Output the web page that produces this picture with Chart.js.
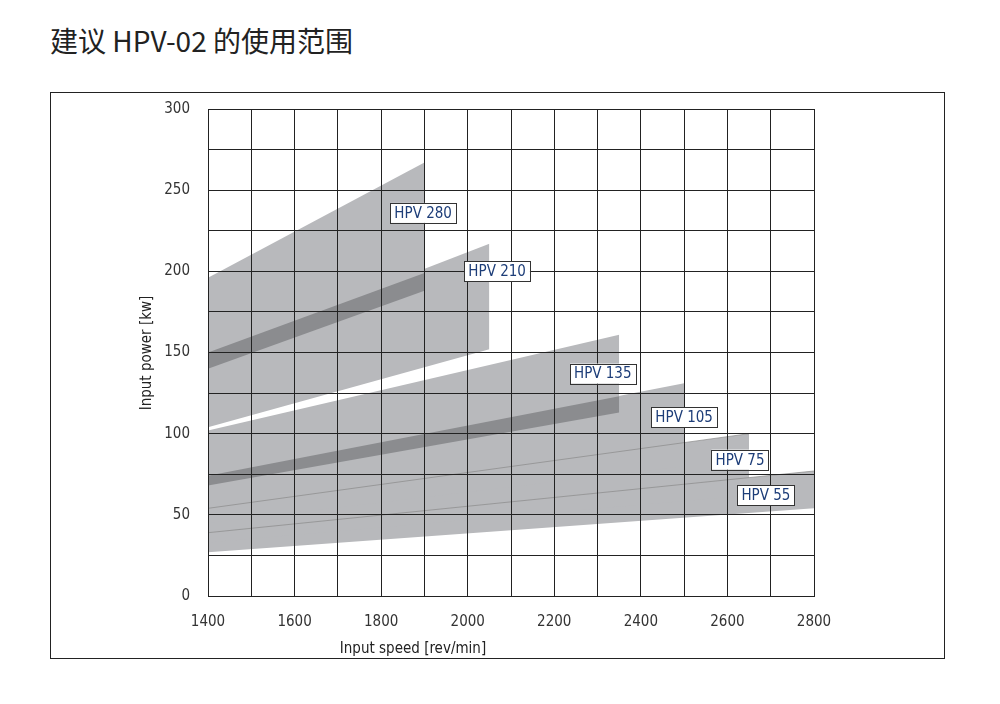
<!DOCTYPE html>
<html>
<head>
<meta charset="utf-8">
<script src="https://cdn.jsdelivr.net/npm/chart.js@4"></script>
<style>
  html, body { margin: 0; padding: 0; background: #fff; }
  #wrap { position: absolute; left: 0; top: 0; width: 1000px; height: 704px; }
  #title { position: absolute; left: 50px; top: 20px; font: 28px "Noto Sans CJK SC", sans-serif; color: #222; }
  #frame { position: absolute; left: 50px; top: 92px; width: 893px; height: 565px; border: 1px solid #222; }
</style>
</head>
<body>
<div id="title">建议 HPV-02 的使用范围</div>
<div id="frame"></div>
<div id="wrap"><canvas id="chart" width="1000" height="704"></canvas></div>
<script>
// pump bands: speed range, upper and lower power edge [kw]
var models = ['HPV 280', 'HPV 210', 'HPV 135', 'HPV 105', 'HPV 75', 'HPV 55'];
var bandSpeed = [[1400, 1900], [1400, 2050], [1400, 2350], [1400, 2500], [1400, 2650], [1400, 2800]];
var bandTop = [[196, 267], [150, 217], [102, 161], [74, 131], [54, 100], [39, 77]];
var bandBottom = [[140, 188], [104, 152], [68, 113], [45, 80], [33, 62], [27, 54]];

// overlaps (darker): 280 with 210, 135 with 105
var overlapSpeed = [[1400, 1900], [1400, 2350]];
var overlapTop = [[150, 199], [74, 123]];
var overlapBottom = [[140, 188], [68, 113]];

// thin edge lines (top of HPV 75 and HPV 55)
var edgeBands = [4, 5];

// label positions [rpm, kw]
var labelPos = [[1897, 236], [2068, 200], [2312, 137], [2500, 110], [2629, 84], [2689, 62]];

var FONT = '"Liberation Sans Narrow", "DejaVu Sans Condensed", sans-serif';

function pts(xs, ys) {
  return xs.map(function (x, i) { return { x: x, y: ys[i] }; });
}

var datasets = [];
var GRAY = '#b8b9bc', DARK = '#8b8c8f';

// gray bands
for (var i = 0; i < models.length; i++) {
  datasets.push({ data: pts(bandSpeed[i], bandBottom[i]), borderWidth: 0, pointRadius: 0, fill: false, order: 3 });
  datasets.push({ data: pts(bandSpeed[i], bandTop[i]), borderWidth: 0, pointRadius: 0, fill: '-1', backgroundColor: GRAY, order: 3 });
}
// dark overlaps
for (var j = 0; j < overlapSpeed.length; j++) {
  datasets.push({ data: pts(overlapSpeed[j], overlapBottom[j]), borderWidth: 0, pointRadius: 0, fill: false, order: 2 });
  datasets.push({ data: pts(overlapSpeed[j], overlapTop[j]), borderWidth: 0, pointRadius: 0, fill: '-1', backgroundColor: DARK, order: 2 });
}
// thin edges
edgeBands.forEach(function (b) {
  datasets.push({ data: pts(bandSpeed[b], bandTop[b]), borderWidth: 0.7, borderColor: '#8a8a8a', pointRadius: 0, fill: false, order: 1 });
});

var labelPlugin = {
  id: 'labels',
  afterDatasetsDraw: function (chart) {
    // grid on top of the bands
    chart.scales.x.drawGrid(chart.chartArea);
    chart.scales.y.drawGrid(chart.chartArea);
  },
  afterDraw: function (chart) {
    var ctx = chart.ctx, xs = chart.scales.x, ys = chart.scales.y;
    ctx.save();
    ctx.font = '15px ' + FONT;
    ctx.textAlign = 'center';
    ctx.textBaseline = 'middle';
    models.forEach(function (m, i) {
      var cx = xs.getPixelForValue(labelPos[i][0]);
      var cy = ys.getPixelForValue(labelPos[i][1]);
      var w = ctx.measureText(m).width + 8, h = 20;
      ctx.fillStyle = '#fff';
      ctx.fillRect(cx - w / 2, cy - h / 2, w, h);
      ctx.strokeStyle = '#333';
      ctx.lineWidth = 1;
      ctx.strokeRect(Math.round(cx - w / 2) + 0.5, Math.round(cy - h / 2) + 0.5, Math.round(w), h);
      ctx.fillStyle = '#1d3d78';
      ctx.fillText(m, cx, cy + 1);
    });
    // axis titles
    ctx.fillStyle = '#222';
    ctx.fillText('Input speed [rev/min]', 413, 649);
    ctx.translate(147, 353);
    ctx.rotate(-Math.PI / 2);
    ctx.fillText('Input power [kw]', 0, 0);
    ctx.restore();
  }
};

new Chart(document.getElementById('chart'), {
  type: 'line',
  data: { datasets: datasets },
  options: {
    responsive: false,
    animation: false,
    layout: { padding: { left: 0, top: 109, right: 186, bottom: 0 } },
    plugins: { legend: { display: false }, tooltip: { enabled: false } },
    scales: {
      x: {
        type: 'linear', min: 1400, max: 2800,
        afterFit: function (s) { s.height = 108; },
        grid: { color: '#222', lineWidth: 1, drawTicks: false },
        border: { color: '#222' },
        ticks: {
          stepSize: 100, padding: 17, color: '#333', maxRotation: 0, autoSkip: false,
          font: { size: 15, family: FONT },
          callback: function (v) { return v % 200 === 0 ? v : ''; }
        }
      },
      y: {
        min: 0, max: 300,
        afterFit: function (s) { s.width = 208; },
        grid: { color: '#222', lineWidth: 1, drawTicks: false },
        border: { color: '#222' },
        ticks: {
          stepSize: 25, padding: 18, color: '#333', autoSkip: false,
          font: { size: 15, family: FONT },
          callback: function (v) { return v % 50 === 0 ? v : ''; }
        }
      }
    }
  },
  plugins: [labelPlugin]
});
</script>
</body>
</html>
